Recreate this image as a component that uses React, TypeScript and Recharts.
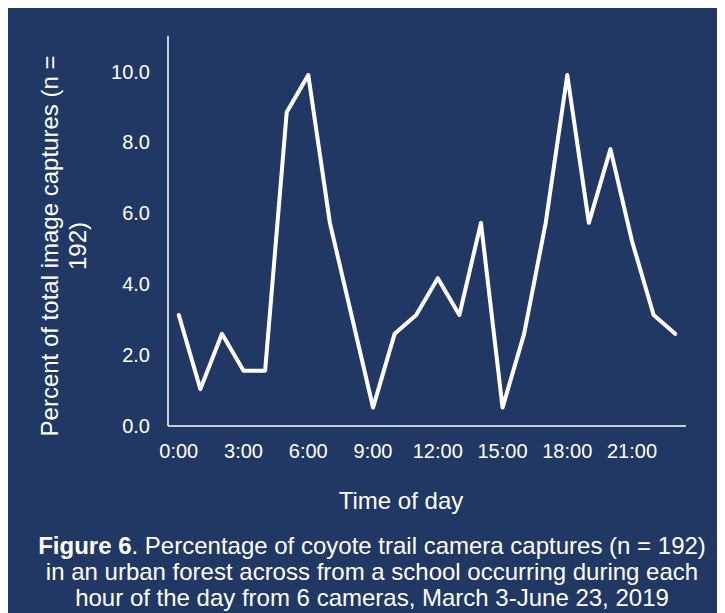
import React from 'react';
import { LineChart, Line, XAxis, YAxis } from 'recharts';

const hours: number[] = [0, 1, 2, 3, 4, 5, 6, 7, 8, 9, 10, 11, 12, 13, 14, 15, 16, 17, 18, 19, 20, 21, 22, 23];
const percents: number[] = [
  3.13, 1.04, 2.6, 1.56, 1.56, 8.85, 9.9, 5.73, 3.13, 0.52, 2.6, 3.13,
  4.17, 3.13, 5.73, 0.52, 2.6, 5.73, 9.9, 5.73, 7.81, 5.21, 3.13, 2.6,
];
const xTicks: number[] = [0, 3, 6, 9, 12, 15, 18, 21];
const yTicks: number[] = [0, 2, 4, 6, 8, 10];

const data = hours.map((h, i) => ({ hour: h, pct: percents[i] }));

const BG = '#213864';
const FONT = '"Liberation Sans", Arial, sans-serif';

export default function App() {
  return (
    <div style={{ position: 'relative', width: 717, height: 606, background: BG, marginTop: -1, fontFamily: FONT }}>
      <LineChart
        width={717}
        height={500}
        data={data}
        margin={{ top: 29, right: 39, left: 100, bottom: 41 }}
      >
        <XAxis
          dataKey="hour"
          type="number"
          domain={[-0.5, 23.5]}
          ticks={xTicks}
          tickFormatter={(h: number) => `${h}:00`}
          axisLine={{ stroke: '#ffffff', strokeWidth: 1.5 }}
          tickLine={false}
          tickSize={0}
          tickMargin={18}
          height={40}
          interval={0}
          tick={{ fill: '#ffffff', fontSize: 20, fontFamily: FONT }}
        />
        <YAxis
          type="number"
          domain={[0, 11]}
          ticks={yTicks}
          tickFormatter={(v: number) => v.toFixed(1)}
          axisLine={{ stroke: '#ffffff', strokeWidth: 1.5 }}
          tickLine={false}
          tickSize={0}
          tickMargin={18}
          width={60}
          interval={0}
          tick={{ fill: '#ffffff', fontSize: 20, fontFamily: FONT }}
        />
        <Line
          type="linear"
          dataKey="pct"
          stroke="#ffffff"
          strokeWidth={4}
          dot={false}
          activeDot={false}
          strokeLinecap="round"
          strokeLinejoin="round"
          isAnimationActive={false}
        />
      </LineChart>
      <svg
        width={717}
        height={606}
        style={{ position: 'absolute', left: 0, top: 0, pointerEvents: 'none' }}
        fontFamily={FONT}
      >
        <text x={50} y={239} fill="#ffffff" fontSize={24} textAnchor="middle" transform="rotate(-90 50 239)">
          Percent of total image captures (n =
        </text>
        <text x={78} y={239} fill="#ffffff" fontSize={24} textAnchor="middle" transform="rotate(-90 78 239)">
          192)
        </text>
        <text x={393} y={502} fill="#ffffff" fontSize={24} textAnchor="middle">
          Time of day
        </text>
        <text x={364} y={547} fill="#ffffff" fontSize={24} textAnchor="middle">
          <tspan fontWeight="bold">Figure 6</tspan>
          <tspan>. Percentage of coyote trail camera captures (n = 192)</tspan>
        </text>
        <text x={364} y={573} fill="#ffffff" fontSize={24} textAnchor="middle">
          in an urban forest across from a school occurring during each
        </text>
        <text x={364} y={599} fill="#ffffff" fontSize={24} textAnchor="middle">
          hour of the day from 6 cameras, March 3-June 23, 2019
        </text>
      </svg>
    </div>
  );
}
